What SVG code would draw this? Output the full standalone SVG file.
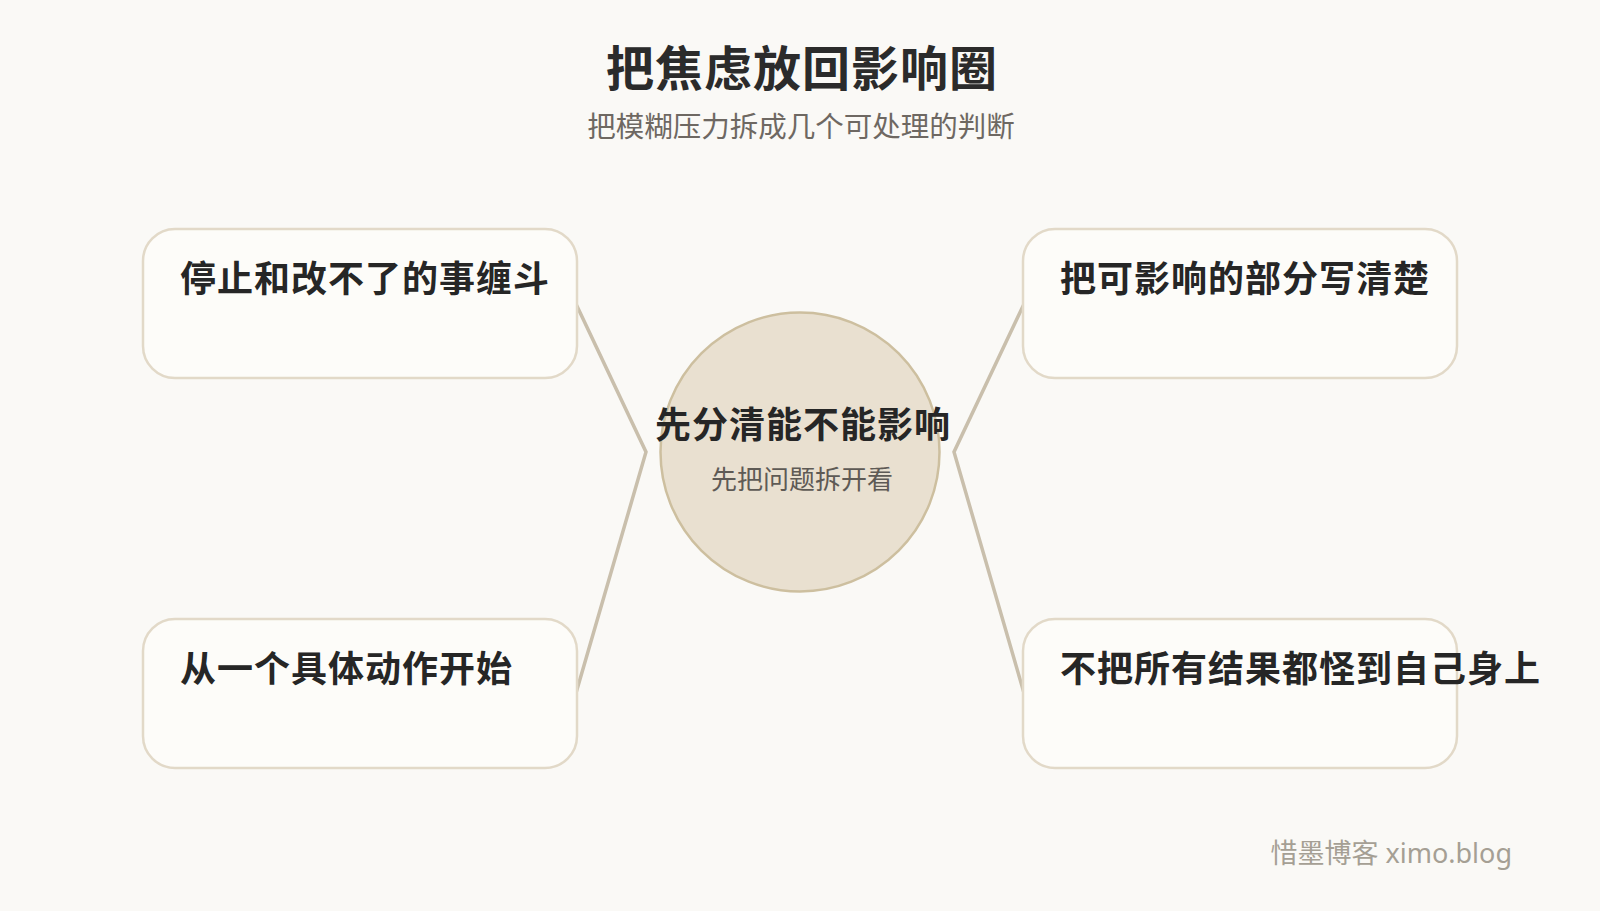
<svg xmlns="http://www.w3.org/2000/svg" width="1600" height="911" viewBox="0 0 1600 911">
<style>
text{font-family:"Noto Sans CJK SC","Noto Sans",sans-serif;}
.title{font-size:48px;font-weight:700;fill:#2b2b2b;text-anchor:middle;letter-spacing:1px;}
.sub{font-size:28.5px;fill:#6e6862;text-anchor:middle;}
.box{fill:#fdfcf9;stroke:#e2d9c8;stroke-width:2.5;}
.lbl{font-size:36px;font-weight:700;fill:#262626;letter-spacing:1px;}
.conn{fill:none;stroke:#c9bfac;stroke-width:3.5;stroke-linejoin:miter;}
.hub{fill:#e9e0d0;stroke:#cdbf9f;stroke-width:2.5;}
.hubt{font-size:36px;font-weight:700;fill:#262626;text-anchor:middle;letter-spacing:1px;}
.hubs{font-size:26px;fill:#5e5a55;text-anchor:middle;}
.foot{font-family:"Noto Sans","Noto Sans CJK SC",sans-serif;font-size:27px;fill:#a59f94;text-anchor:end;}
</style>
<rect width="1600" height="911" fill="#faf9f6"/>
<text class="title" x="802" y="86">把焦虑放回影响圈</text>
<text class="sub" x="801" y="137">把模糊压力拆成几个可处理的判断</text>
<g id="connectors">
<path class="conn" d="M576 304 L646 452 L576 693"/>
<path class="conn" d="M1024 304 L954 452 L1024 693"/>
</g>
<g id="hub">
<circle class="hub" cx="800" cy="452" r="139.5"/>
<text class="hubt" x="803" y="438">先分清能不能影响</text>
<text class="hubs" x="802" y="489">先把问题拆开看</text>
</g>
<g id="node-tl">
<rect class="box" x="143" y="229" width="434" height="149" rx="32"/>
<text class="lbl" x="180" y="292">停止和改不了的事缠斗</text>
</g>
<g id="node-tr">
<rect class="box" x="1023" y="229" width="434" height="149" rx="32"/>
<text class="lbl" x="1060" y="292">把可影响的部分写清楚</text>
</g>
<g id="node-bl">
<rect class="box" x="143" y="619" width="434" height="149" rx="32"/>
<text class="lbl" x="180" y="682">从一个具体动作开始</text>
</g>
<g id="node-br">
<rect class="box" x="1023" y="619" width="434" height="149" rx="32"/>
<text class="lbl" x="1060" y="682">不把所有结果都怪到自己身上</text>
</g>
<text class="foot" x="1512" y="863">惜墨博客 ximo.blog</text>
</svg>
